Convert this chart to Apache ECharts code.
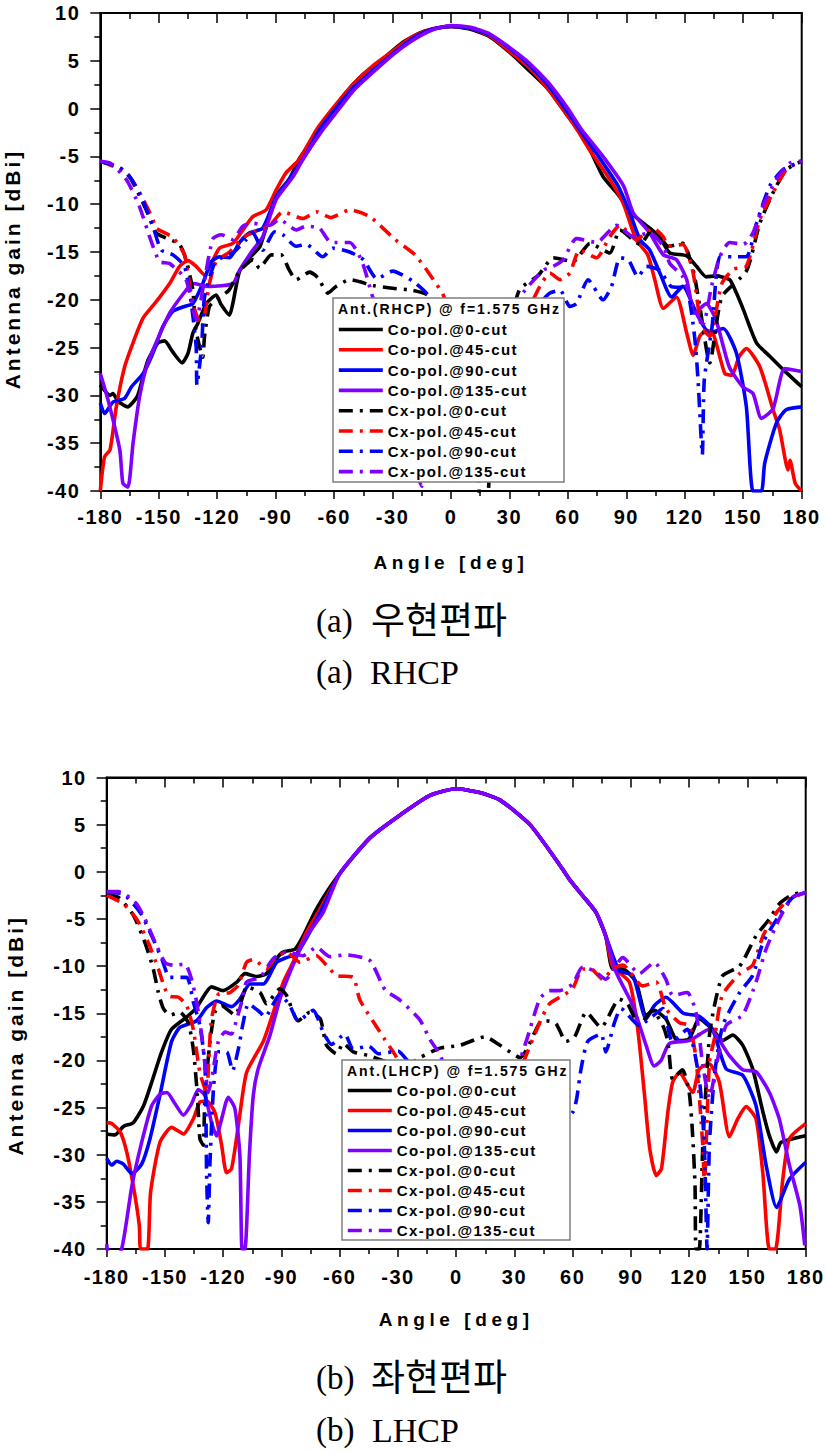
<!DOCTYPE html>
<html>
<head>
<meta charset="utf-8">
<script src="https://cdn.jsdelivr.net/npm/echarts@6/dist/echarts.min.js"></script>
<style>
html, body { margin: 0; background: #fff; }
#main { width: 827px; height: 1453px; }
/* the source figure has widely tracked bold labels */
#main text[style*="15px"] { letter-spacing: 1.4px; }
#main text[style*="14px"] { letter-spacing: 1.9px; }
#main text[style*="20px"] { letter-spacing: 1.5px; }
#main text[style*="19px"] { letter-spacing: 4.6px; }
#main text[style*="21px"] { letter-spacing: 3px; }
</style>
</head>
<body>
<div id="main"></div>
<script>
var names = ['Co-pol.@0-cut', 'Co-pol.@45-cut', 'Co-pol.@90-cut', 'Co-pol.@135-cut',
             'Cx-pol.@0-cut', 'Cx-pol.@45-cut', 'Cx-pol.@90-cut', 'Cx-pol.@135-cut'];
var yTicks = [-40, 10];
var xTicks = [-180, 180];

// RHCP: [angle, gain]
var rCo0 = [[-180,-28.9],[-175,-30],[-173.5,-29.8],[-171,-30.6],[-166,-31.2],[-161,-30.1],[-158,-28],[-155.5,-26.3],[-150.4,-24.5],[-147,-24.3],[-143,-25.4],[-138,-26.6],[-135,-25.6],[-132.5,-23.5],[-130,-22.5],[-125.6,-20.4],[-120.5,-19.5],[-118,-20.5],[-113.7,-21.6],[-112,-20.4],[-108.5,-17],[-103.4,-15.6],[-98,-14.4],[-90,-9.2],[-83,-7.4],[-78,-5.3],[-65,-1.5],[-55,1.4],[-45,3.6],[-35,5.2],[-25,6.9],[-15,8],[-5,8.5],[0,8.6],[10,8.3],[20,7.5],[30,5.9],[40,4],[50,2],[60,-0.8],[65.3,-2.2],[71.3,-4.3],[78,-7.1],[85,-8.8],[93.5,-11.1],[102,-12.5],[107,-13.4],[112.3,-15.1],[121,-15.4],[126,-16.5],[131,-17.6],[136,-17.5],[143,-17.9],[146.5,-19.3],[150,-21],[156.8,-24.5],[163.6,-25.9],[170.5,-27.3],[180,-29.1]];
var rCo45 = [[-180,-40],[-177.8,-36.4],[-175,-35.7],[-171.8,-31.2],[-167.5,-27],[-163.2,-24.5],[-158,-21.9],[-151.3,-20.2],[-144.4,-18.3],[-139.3,-16.5],[-135,-15.9],[-130.8,-16.5],[-126.5,-17.4],[-123,-16.2],[-118.8,-14.6],[-112,-14.1],[-106.8,-12.7],[-101.7,-11.3],[-94.9,-10.6],[-89.7,-8.5],[-84.6,-6.7],[-77.8,-5.3],[-69,-2.2],[-60,0.2],[-50,2.6],[-40,4.5],[-30,6],[-20,7.5],[-10,8.3],[0,8.6],[10,8.4],[20,7.6],[30,6],[40,4.3],[50,2],[60,-0.8],[65,-2.3],[72,-4.6],[81.5,-7.4],[88.4,-9.9],[95,-13.7],[101,-15.3],[104.6,-17.9],[109,-20.9],[115.7,-19.7],[121,-23.5],[124.3,-25.8],[127.7,-23.8],[131,-23.2],[134.5,-23.5],[140.5,-27.7],[144,-27.9],[148,-25.9],[151.6,-25.1],[158.5,-27],[165.3,-31.5],[168.7,-33.6],[173,-37.8],[174,-36.8],[176.7,-39.2],[180,-40]];
var rCo90 = [[-180,-30.8],[-177.8,-31.9],[-173.5,-30.7],[-167.5,-30.3],[-164,-29.1],[-158,-27.7],[-153,-25.6],[-147.9,-22.8],[-142.7,-21.2],[-136.8,-20.7],[-132.5,-20.4],[-127.4,-18.3],[-123,-16],[-118.8,-15.5],[-113.7,-15.6],[-108.5,-14],[-103.4,-13],[-96.6,-12.5],[-89.7,-9.2],[-84.6,-7.8],[-76,-5.3],[-67.5,-2.2],[-60,-0.2],[-50,2.2],[-40,4],[-30,5.7],[-20,7.3],[-10,8.3],[0,8.6],[10,8.4],[20,7.7],[30,6.3],[40,4.6],[50,2.4],[60,-0.4],[66,-2.2],[74.7,-4.7],[85.8,-8.1],[91.8,-10.9],[97,-13.7],[102,-14.8],[107.2,-17.2],[113.2,-19.7],[119,-18.6],[126,-21.4],[132.8,-23.5],[139.7,-23],[146.5,-25.6],[151.6,-31.2],[155,-40],[159.3,-40],[161,-37.1],[167,-32.9],[172,-31.5],[180,-31.2]];
var rCo135 = [[-180,-27.7],[-176,-30.5],[-170,-35.7],[-168.4,-39.2],[-165.8,-39.6],[-163.2,-35],[-159.8,-30.1],[-155.6,-26.6],[-144.4,-21.4],[-136,-19],[-132.5,-18.3],[-124,-18.6],[-112,-18.3],[-108.5,-16.9],[-101.7,-14.8],[-96.6,-13.4],[-89.7,-9.5],[-81,-7.1],[-76,-5.3],[-65.8,-2.2],[-60,-0.7],[-50,1.9],[-40,3.8],[-30,5.6],[-20,7.1],[-10,8.2],[0,8.7],[10,8.5],[20,7.8],[30,6.4],[40,4.8],[50,2.7],[60,0],[67,-2.2],[78,-5],[88.6,-8.1],[93.5,-10.9],[102,-13],[109,-15.3],[115.7,-15.8],[121,-17.9],[125,-21.4],[131,-20.4],[136,-22.1],[142.8,-27],[149.7,-29.1],[155,-29.8],[159.3,-32.4],[165.3,-31.4],[171.3,-27.2],[180,-27.5]];
var rCx0 = [[-180,-5.5],[-170,-6.2],[-165,-7.1],[-156.4,-10.6],[-151.3,-13],[-144.4,-13.7],[-139.3,-14.2],[-136,-15.8],[-132.5,-19],[-131,-23.1],[-127.4,-26],[-126.5,-23.8],[-124,-20.7],[-120.5,-20],[-114,-19],[-108.5,-17],[-101.5,-15.8],[-98.3,-16.7],[-92.3,-15.3],[-87.2,-15.3],[-83,-16.9],[-79.5,-17.9],[-72.6,-17.1],[-68.3,-17.7],[-63.2,-19.3],[-59,-18.6],[-52,-17.9],[-40,-18.5],[-30,-18.8],[-20,-19],[-12,-19.5],[-8,-21],[0,-26],[10,-34],[14,-38],[15,-41],[18.5,-41],[20,-37],[28,-25],[35,-19],[45,-17.4],[52.5,-15.6],[62.7,-16],[71.3,-14.1],[81.5,-15.1],[86.7,-12.7],[97,-14.2],[103.8,-12.5],[111.5,-14.4],[119,-14.1],[124.3,-16.9],[127.7,-20.7],[132.8,-26.6],[139,-19.7],[151.6,-17],[158.5,-12],[165.3,-8.8],[172,-6.4],[180,-5.5]];
var rCx45 = [[-180,-5.5],[-166.7,-6.7],[-160,-8.7],[-153,-11.6],[-151.3,-12.5],[-142.7,-13.5],[-136.8,-15.3],[-132.5,-20.4],[-128,-22.8],[-124,-18.3],[-120.5,-16],[-113.7,-15],[-106,-13.4],[-93,-12.2],[-86.3,-10.8],[-76,-11.5],[-69,-10.8],[-61.6,-11.4],[-52,-10.6],[-41.6,-11.3],[-28.7,-13.7],[-18.4,-15.3],[-10.7,-17.4],[-4,-19.5],[5,-24],[20,-28],[35,-23],[45.6,-18.6],[50.8,-17.2],[56,-17.9],[61,-17.2],[66,-14.8],[74.7,-15.6],[81.5,-13.4],[86.7,-12.2],[95,-13.7],[103.8,-12.5],[108.9,-13.4],[111.5,-14.4],[119,-14.2],[124.3,-17.2],[128.5,-22.8],[132.8,-23.8],[139,-18.3],[145,-16.8],[151.6,-16.5],[158.5,-11.6],[165.3,-8.8],[172,-6.4],[180,-5.5]];
var rCx90 = [[-180,-5.5],[-170,-6.2],[-164,-7.4],[-158,-9.7],[-153,-12.3],[-148.7,-14.8],[-142.7,-15.3],[-136.8,-16.5],[-133.3,-20.4],[-130.8,-24.9],[-130.4,-28.9],[-128,-24.9],[-126.5,-19.7],[-121.4,-16.2],[-117,-15.5],[-112,-15.1],[-105,-13.7],[-101.7,-13],[-96.6,-14.8],[-90.6,-12.9],[-86.3,-13.2],[-79.5,-14.4],[-74.4,-14.2],[-65.8,-15.5],[-60.7,-14.6],[-52,-15],[-45,-15.8],[-38,-17.8],[-30,-17],[-20,-18],[-12,-19.5],[0,-26],[20,-30],[36,-24],[45.6,-20.4],[50.8,-19.3],[56,-19],[61,-20.7],[64.4,-20.4],[70.4,-17.9],[78,-20],[82.4,-18.6],[86.7,-15.6],[91,-15.8],[96,-17.6],[100.3,-16.5],[107,-16.9],[113,-18.6],[120.8,-18.8],[125,-23.8],[126.8,-28.4],[129,-36.2],[130,-28.4],[134,-22.8],[138,-15.5],[144.8,-15.5],[151.6,-15.5],[156.8,-12],[163.6,-8.1],[170.4,-6.4],[180,-5.5]];
var rCx135 = [[-180,-5.5],[-175,-5.7],[-166.7,-7.4],[-160,-10.2],[-154.7,-13.4],[-149.6,-16],[-144.4,-16.2],[-136,-17.9],[-130.8,-22.1],[-126.5,-17.9],[-122.2,-13.6],[-118,-13.2],[-112,-13.7],[-106.8,-12.3],[-101.7,-12],[-93,-12.2],[-88,-11.6],[-79.5,-12.7],[-74.4,-12.3],[-67.5,-12.5],[-61.6,-14],[-52,-14],[-45.7,-16],[-40.5,-19.5],[-25,-30],[-15,-39.5],[-5,-30],[20,-24],[38,-19],[47.4,-16.9],[52.5,-16.5],[57.6,-15.8],[64.4,-13.6],[74.7,-14],[85,-12.2],[93.5,-13.4],[102,-13],[109,-14.4],[112.3,-16.2],[119,-17.6],[124.3,-20.7],[129.4,-22.5],[133.7,-18.6],[138,-15.5],[143,-14],[150,-14.2],[155,-13],[160,-10.2],[167,-7.4],[173.8,-5.7],[180,-5.5]];

// LHCP
var lCo0 = [[-180,-27.8],[-175.7,-27.9],[-171.4,-27],[-166.3,-26.6],[-161,-24.8],[-156.8,-22.3],[-151.7,-19.1],[-146.6,-16.7],[-138.8,-15.4],[-133.7,-14.4],[-126,-12.2],[-120,-12.6],[-113,-11.7],[-108.8,-10.8],[-102.8,-11.1],[-97.7,-10.8],[-92.5,-9.2],[-89,-8.5],[-83,-8.2],[-78.8,-6.8],[-71.9,-3.9],[-60,-0.2],[-44.4,3.6],[-29,6],[-13.5,8.1],[0,8.8],[12,8.4],[22.6,7.6],[38,5],[53.4,0.7],[58.3,-0.8],[65,-2.5],[72,-4.3],[77,-6.8],[80.6,-10.3],[85.8,-10.3],[92.6,-11.7],[97.8,-15.2],[102,-14.7],[108,-15.6],[114,-17.9],[120,-17.7],[125.2,-15.6],[132,-16.7],[137.3,-17.9],[142.4,-17.3],[147.6,-18.4],[152.7,-20.9],[158,-25.5],[161.3,-28],[165,-29.7],[167.3,-28.7],[180,-28]];
var lCo45 = [[-180,-26.6],[-177.4,-26.7],[-173,-27.6],[-169.7,-29.7],[-166.3,-33.3],[-163.2,-37.5],[-162.5,-40],[-159,-40],[-157.4,-34],[-152.6,-28.7],[-146.6,-27.1],[-143,-27.5],[-140.5,-27.8],[-135.4,-26.2],[-132,-24.4],[-128.5,-24.3],[-124.3,-25.5],[-120.8,-29],[-118.3,-31.9],[-115.7,-31.5],[-112.2,-26.9],[-108,-21.3],[-99.4,-18],[-94.2,-14.9],[-89,-11.7],[-84,-9.6],[-77,-6.4],[-70,-3.9],[-60,-0.2],[-44.4,3.6],[-29,6],[-13.5,8.1],[0,8.8],[12,8.4],[22.6,7.6],[38,5],[53.4,0.7],[58.3,-0.8],[65,-2.5],[72,-4.3],[77,-6.8],[80.6,-10],[89.2,-11.7],[93.5,-16.7],[97,-23.7],[99.7,-29.4],[103,-32.2],[105.7,-31.5],[109,-25.5],[111.5,-22.3],[115,-21.3],[121.8,-23.4],[125.2,-20.9],[130.4,-20.4],[135.5,-22.3],[140.7,-28.1],[145,-26.2],[149.3,-24.9],[154.4,-26.2],[157.9,-31.9],[161.3,-40],[164.4,-40],[168.2,-32.6],[171.6,-28.3],[180,-26.7]];
var lCo90 = [[-180,-30.4],[-177.4,-31.1],[-174.9,-30.7],[-171.4,-31],[-167,-32],[-162,-31],[-157.7,-28.3],[-152.6,-23.7],[-146.6,-18],[-142.3,-16.5],[-133.7,-15.8],[-128.5,-14.4],[-123.4,-13.7],[-115.7,-14.3],[-111.4,-13.5],[-106.2,-11.9],[-99.4,-11.9],[-92.5,-9.6],[-87.4,-9.1],[-82.2,-8.7],[-75.4,-6.4],[-69,-3.9],[-60,-0.2],[-44.4,3.6],[-29,6],[-13.5,8.1],[0,8.8],[12,8.4],[22.6,7.6],[38,5],[53.4,0.7],[58.3,-0.8],[65,-2.5],[72,-4.3],[77,-6.8],[84,-10.5],[91,-11],[97.8,-15.6],[102,-14.2],[108,-13.3],[117,-15],[125,-15.3],[132,-16.7],[139,-20.9],[147.6,-21.6],[154.4,-24.8],[159.6,-31.1],[165,-35.6],[171.6,-32.6],[180,-30.8]];
var lCo135 = [[-180,-39.5],[-178,-42],[-172.3,-40],[-167,-33.3],[-162,-28.7],[-156.8,-24.8],[-152.6,-23.6],[-149,-23.4],[-144.8,-24.6],[-140.5,-25.8],[-136.3,-24.6],[-132.8,-23.1],[-129.4,-23.7],[-126,-26.6],[-123.4,-28],[-120.8,-26.2],[-117.4,-23.9],[-114,-25.1],[-111.4,-30.1],[-110.3,-40],[-108.8,-40],[-106.5,-30],[-104.5,-23.7],[-102,-20.9],[-96,-17.4],[-90.8,-13.5],[-85.7,-10.7],[-77,-6.8],[-68.5,-4.3],[-60,-0.2],[-44.4,3.6],[-29,6],[-13.5,8.1],[0,8.8],[12,8.4],[22.6,7.6],[38,5],[53.4,0.7],[58.3,-0.8],[65,-2.5],[72,-4.3],[77,-6.8],[82.3,-10.6],[91,-14.2],[97.8,-18.4],[102,-20.6],[105.5,-20],[109.8,-18.2],[120,-17.9],[130.4,-16.7],[140.7,-19.5],[147.6,-21],[154.4,-21.2],[161.3,-23.4],[166.4,-26.2],[171.6,-31.1],[177,-35.4],[179.5,-39.6]];
var lCx0 = [[-180,-2.5],[-174,-2.7],[-166.3,-4.6],[-160.3,-7.5],[-156,-10.3],[-153.4,-12.8],[-150.8,-14.5],[-147.4,-15.2],[-142.3,-14.9],[-138,-16],[-135.4,-18.8],[-133.3,-23.7],[-132,-28.3],[-130.3,-29],[-129.4,-23.7],[-126.8,-18],[-124.3,-14.9],[-120.8,-14.2],[-114,-15.2],[-109.7,-13.1],[-108,-12.2],[-101,-12.8],[-97.7,-14],[-90.8,-12.4],[-87.4,-13.1],[-81.4,-15.8],[-75.4,-14.9],[-70,-15.6],[-66.8,-18.4],[-61.6,-19.3],[-58.2,-18.2],[-53,-19.1],[-45,-19.5],[-35,-20.2],[-25,-20.5],[-18.7,-19.7],[-8.3,-18.7],[1.9,-18.4],[14.8,-17.5],[22.6,-18.4],[32.9,-19.7],[43,-16],[46.3,-15.8],[51.4,-16.1],[56.6,-18],[61,-17.5],[67,-14.9],[74.6,-16.5],[84,-13.5],[88.3,-14],[94.3,-16.3],[101,-14.7],[106.4,-16.3],[109,-18],[111.5,-22],[116.5,-21],[120,-23.4],[121.8,-28],[123,-33.3],[123.5,-40],[125.2,-40],[127,-29],[130.4,-17.4],[133,-14.2],[137.3,-11],[146,-10],[154.4,-6.8],[161.3,-5],[166.4,-3.4],[173.3,-2.4],[180,-2.2]];
var lCx45 = [[-180,-2.5],[-171.4,-3.4],[-164.6,-5],[-158.6,-7.5],[-153.4,-10.3],[-150,-12.4],[-147.4,-13.2],[-143,-13.3],[-138.8,-14.2],[-135.4,-16.7],[-132,-21.3],[-128.5,-23.4],[-127.5,-20],[-126,-15.6],[-122.5,-13],[-116.5,-12.8],[-112.2,-12],[-108,-9.6],[-104.5,-9.3],[-97.7,-10.3],[-93.4,-9.2],[-87.4,-8.5],[-80.5,-9.6],[-72,-8.9],[-66.8,-9.9],[-61.6,-11],[-53,-11.2],[-49.6,-13.6],[-36.7,-17.8],[-31.5,-19.4],[-15,-26],[10,-30],[30,-23],[35,-20],[43,-16],[48,-14],[55,-13.1],[60,-12.4],[65,-10.3],[69.4,-10.3],[75.4,-11.4],[80.6,-10.3],[85.8,-9.9],[96,-12.1],[103,-11.7],[108,-14.5],[115,-16],[120,-16.3],[123.5,-19.8],[127,-29],[127.8,-33.1],[130.4,-20.2],[133,-17.7],[137,-13.1],[146,-10.8],[152.7,-9.9],[158,-6.8],[165,-4.3],[171.6,-2.9],[180,-2.2]];
var lCx90 = [[-180,-2.2],[-172,-2.3],[-162.8,-4.3],[-156.8,-6.8],[-151.7,-9.2],[-147.4,-11.2],[-138.8,-11.2],[-135.4,-13.8],[-132,-16.3],[-129.4,-20.5],[-128.5,-32.6],[-127.7,-37.2],[-126.8,-30.8],[-125,-23],[-122.5,-19.1],[-118.2,-19.1],[-115.2,-21.1],[-112.2,-18.8],[-109.7,-16],[-107,-14],[-101,-14.9],[-98.5,-15.4],[-90.8,-13],[-85.7,-14.2],[-81.4,-15.8],[-73.7,-14.7],[-68.5,-17],[-64.2,-18.3],[-57.4,-17.2],[-53,-18.8],[-45,-18.5],[-40,-19.3],[-30,-19],[-25,-20],[-12,-21],[10,-28],[40,-30],[60,-25.5],[62,-24.1],[64.3,-20.9],[67.7,-18],[74.6,-17.2],[77,-19.1],[81.5,-16],[84.9,-14.5],[94.3,-16.3],[99.5,-15.6],[106.4,-14.5],[111.3,-18],[119,-16.7],[125.2,-22],[127.8,-29],[129.2,-40],[130.4,-29],[133,-21.6],[137.3,-16.3],[146,-12.8],[152.7,-11],[158,-7.5],[166.4,-4.6],[173.3,-2.7],[180,-2.2]];
var lCx135 = [[-180,-2.1],[-174,-2.1],[-169.7,-2.5],[-164.6,-3.4],[-160.3,-5],[-155,-7.5],[-150,-9.6],[-145.7,-9.9],[-139.7,-9.8],[-136.3,-11.4],[-133.7,-13.8],[-131,-17.4],[-129.4,-20.5],[-127.7,-23.4],[-126,-22],[-122.5,-18],[-119,-17],[-115.7,-17.2],[-113,-15.6],[-110.5,-13.8],[-108,-11.7],[-101,-11.2],[-94.2,-9.2],[-87.4,-8.5],[-78.8,-8.9],[-72,-8],[-65,-9],[-57,-8.8],[-44.5,-9.4],[-36.7,-12.5],[-29,-13.6],[-18.7,-15.7],[-13.5,-17.8],[-8.3,-19.4],[5,-26],[25,-24],[36,-18],[43,-13.5],[48,-12.6],[53,-12.6],[60,-11.9],[65,-10.1],[71,-10.5],[77,-11.4],[85.8,-9.1],[94.3,-10.8],[102,-9.6],[108,-11.4],[111.5,-13.1],[119,-12.8],[123.5,-14.9],[127,-20.5],[130.4,-24],[134,-20.5],[139,-16.3],[147.5,-15.2],[154.4,-11.7],[159.6,-8.2],[166.4,-5],[173.3,-2.7],[180,-2.2]];

var colors = ['#000000', '#ff0000', '#0000ff', '#7f00ff'];
var rData = [rCo0, rCo45, rCo90, rCo135, rCx0, rCx45, rCx90, rCx135];
var lData = [lCo0, lCo45, lCo90, lCo135, lCx0, lCx45, lCx90, lCx135];

function makeSeries(list, axis) {
    return list.map(function (d, i) {
        return {
            name: names[i],
            type: 'line',
            xAxisIndex: axis,
            yAxisIndex: axis,
            data: d,
            symbol: 'none',
            smooth: 0.2,
            z: 2,
            lineStyle: {
                color: colors[i % 4],
                width: 3.6,
                type: i < 4 ? 'solid' : [14, 7, 3, 7]
            },
            itemStyle: {color: colors[i % 4]}
        };
    });
}

function xAxes(grid, nameGap, labelMargin) {
    var common = {
        type: 'value', gridIndex: grid, min: xTicks[0], max: xTicks[1], interval: 30,
        splitLine: {show: false}, axisLine: {onZero: false, lineStyle: {color: '#000', width: 2}},
        minorTick: {show: true, splitNumber: 2, length: 5, lineStyle: {color: '#000', width: 1.5}}
    };
    return [
        Object.assign({}, common, {
            position: 'bottom',
            name: 'Angle [deg]', nameLocation: 'middle', nameGap: nameGap,
            nameTextStyle: {fontFamily: 'Liberation Sans', fontWeight: 'bold', fontSize: 19, color: '#000'},
            axisTick: {length: 8, lineStyle: {color: '#000', width: 1.5}},
            axisLabel: {margin: labelMargin, fontFamily: 'Liberation Sans', fontWeight: 'bold', fontSize: 20, color: '#000', showMinLabel: true, showMaxLabel: true, hideOverlap: false}
        }),
        Object.assign({}, common, {
            position: 'top',
            axisTick: {inside: true, length: 10, lineStyle: {color: '#000', width: 1.5}},
            minorTick: {show: true, splitNumber: 2, length: 6, lineStyle: {color: '#000', width: 1.5}},
            axisLabel: {show: false}
        })
    ];
}

function yAxes(grid, nameGap, namePad) {
    return {
        type: 'value', gridIndex: grid, min: yTicks[0], max: yTicks[1], interval: 5,
        name: 'Antenna gain [dBi]', nameLocation: 'middle', nameGap: nameGap, nameRotate: 90,
        nameTextStyle: {fontFamily: 'Liberation Sans', fontWeight: 'bold', fontSize: 21, color: '#000', padding: [0, namePad, 0, 0]},
        splitLine: {show: false},
        axisLine: {onZero: false, lineStyle: {color: '#000', width: 2}},
        axisTick: {length: 10, lineStyle: {color: '#000', width: 1.5}},
        minorTick: {show: true, splitNumber: 2, length: 6, lineStyle: {color: '#000', width: 1.5}},
        axisLabel: {margin: 20, fontFamily: 'Liberation Sans', fontWeight: 'bold', fontSize: 20, color: '#000'}
    };
}

function legendBox(left, top, padTop, gap) {
    return {
        left: left, top: top, orient: 'vertical', padding: [padTop, 0, 0, 4],
        data: names, selectedMode: false, itemWidth: 44, itemHeight: 14, itemGap: gap, z: 5,
        itemStyle: {opacity: 0},
        lineStyle: {width: 3.6},
        textStyle: {fontFamily: 'Liberation Sans', fontWeight: 'bold', fontSize: 15, color: '#000'}
    };
}

function caption(text, x, y, size) {
    return {
        type: 'text', x: x, y: y, z: 6,
        style: {text: text, fill: '#000', textAlign: 'left', textVerticalAlign: 'middle', fontSize: size,
                fontFamily: '"Liberation Serif", "Noto Sans CJK KR"'}
    };
}

function box(x, y, w, h) {
    return {
        type: 'rect', x: x, y: y, z: 4,
        shape: {x: 0, y: 0, width: w, height: h},
        style: {fill: '#fff', stroke: '#7f7f7f', lineWidth: 1.5}
    };
}

function boxTitle(text, x, y) {
    return {
        type: 'text', x: x, y: y, z: 6,
        style: {text: text, fill: '#000', textAlign: 'left', textVerticalAlign: 'middle',
                fontFamily: 'Liberation Sans', fontWeight: 'bold', fontSize: 14}
    };
}

var myChart = echarts.init(document.getElementById('main'), null, {renderer: 'svg'});

var option = {
    animation: false,
    backgroundColor: '#fff',
    grid: [
        {left: 100.3, top: 13, width: 701.4, height: 478, show: true, borderColor: '#000', borderWidth: 2, outerBoundsMode: 'none'},
        {left: 106.7, top: 777.5, width: 699, height: 471.5, show: true, borderColor: '#000', borderWidth: 2, outerBoundsMode: 'none'}
    ],
    xAxis: xAxes(0, 62, 16).concat(xAxes(1, 61, 18)),
    yAxis: [yAxes(0, 77, 34), yAxes(0, 77, 0), yAxes(1, 81, 44), yAxes(1, 81, 0)].map(function (a, i) {
        if (i % 2) { a.show = false; a.name = ''; }
        return a;
    }),
    legend: [legendBox(333, 298, 24, 5.3), legendBox(342, 1060, 23, 5)],
    series: makeSeries(rData, 0).concat(makeSeries(lData, 2)),
    graphic: [
        box(333, 298, 231, 184),
        box(342, 1060, 228, 180),
        boxTitle('Ant.(RHCP) @ f=1.575 GHz', 338, 309),
        boxTitle('Ant.(LHCP) @ f=1.575 GHz', 347, 1071),
        caption('(a)', 316, 621, 33),
        caption('우현편파', 371, 621, 37),
        caption('(a)', 316, 672, 33),
        caption('RHCP', 370, 672, 34),
        caption('(b)', 316, 1378, 33),
        caption('좌현편파', 371, 1378, 37),
        caption('(b)', 316, 1430, 33),
        caption('LHCP', 372, 1430, 34)
    ]
};
myChart.setOption(option);
</script>
</body>
</html>
